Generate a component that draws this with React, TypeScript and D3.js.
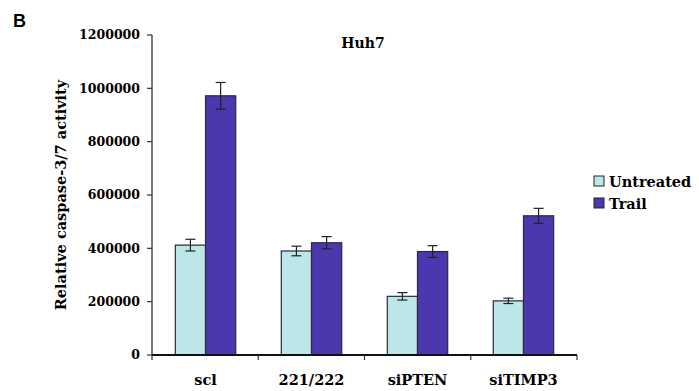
import * as d3 from 'd3';

const CATEGORIES = ['scl', '221/222', 'siPTEN', 'siTIMP3'];
const SERIES = ['Untreated', 'Trail'];
const UNTREATED = [412000, 390000, 220000, 203000];
const UNTREATED_ERR = [22000, 18000, 14000, 10000];
const TRAIL = [972000, 421000, 388000, 522000];
const TRAIL_ERR = [50000, 23000, 22000, 28000];
const Y_TICKS = [0, 200000, 400000, 600000, 800000, 1000000, 1200000];

const COLORS = ['#bde6e8', '#4c38ae'];
const SERIF = 'DejaVu Serif, Liberation Serif, serif';

export default function App() {
    const W = 699;
    const H = 391;
    const margin = {left: 152, right: 122, top: 35, bottom: 36};
    const innerW = W - margin.left - margin.right;
    const innerH = H - margin.top - margin.bottom;

    const x = d3.scaleBand().domain(CATEGORIES).range([0, innerW]).paddingInner(0.43).paddingOuter(0.22);
    const x1 = d3.scaleBand().domain(SERIES).range([0, x.bandwidth()]);
    const y = d3.scaleLinear().domain([0, 1200000]).range([innerH, 0]);

    const values = [UNTREATED, TRAIL];
    const errors = [UNTREATED_ERR, TRAIL_ERR];
    const step = innerW / CATEGORIES.length;

    return (
        <svg width={W} height={H} style={{position: 'absolute', left: 0, top: 0, background: '#fff'}}>
            <text x={13} y={27} style={{fontFamily: 'Liberation Sans, Arial, sans-serif'}} fontWeight="bold" fontSize={18}>B</text>
            <text x={363} y={48} textAnchor="middle" style={{fontFamily: SERIF}} fontWeight="bold" fontSize={14}>Huh7</text>
            <text transform={`translate(66, 195) rotate(-90)`} textAnchor="middle"
                style={{fontFamily: SERIF}} fontWeight="bold" fontSize={14.5}>Relative caspase-3/7 activity</text>

            <g transform={`translate(${margin.left}, ${margin.top})`}>
                {CATEGORIES.map((c, i) => (
                    <g key={c} transform={`translate(${x(c)}, 0)`}>
                        {SERIES.map((s, j) => {
                            const v = values[j][i];
                            const e = errors[j][i];
                            const bx = x1(s) as number;
                            const cx = bx + x1.bandwidth() / 2;
                            return (
                                <g key={s}>
                                    <rect x={bx} y={y(v)} width={x1.bandwidth()} height={innerH - y(v)}
                                        fill={COLORS[j]} stroke="#2a2a3a" strokeWidth={1.2} />
                                    <line x1={cx} x2={cx} y1={y(v + e)} y2={y(v - e)} stroke="#222" strokeWidth={1.2} />
                                    <line x1={cx - 5} x2={cx + 5} y1={y(v + e)} y2={y(v + e)} stroke="#222" strokeWidth={1.2} />
                                    <line x1={cx - 5} x2={cx + 5} y1={y(v - e)} y2={y(v - e)} stroke="#222" strokeWidth={1.2} />
                                </g>
                            );
                        })}
                        <text x={x.bandwidth() / 2} y={innerH + 30} textAnchor="middle"
                            style={{fontFamily: SERIF}} fontWeight="bold" fontSize={14.5}>{c}</text>
                    </g>
                ))}

                {/* y axis */}
                <line x1={0} x2={0} y1={0} y2={innerH} stroke="#333" strokeWidth={1.3} />
                {Y_TICKS.map((t) => (
                    <g key={t} transform={`translate(0, ${y(t)})`}>
                        <line x1={-5} x2={0} stroke="#333" strokeWidth={1.2} />
                        <text x={-12} dy="0.35em" textAnchor="end" style={{fontFamily: SERIF}} fontWeight="bold" fontSize={12.5}>{t}</text>
                    </g>
                ))}

                {/* x axis */}
                <line x1={0} x2={innerW} y1={innerH} y2={innerH} stroke="#111" strokeWidth={2} />
                {d3.range(CATEGORIES.length + 1).map((k) => (
                    <line key={k} x1={k * step} x2={k * step} y1={innerH} y2={innerH + 5} stroke="#333" strokeWidth={1.2} />
                ))}
            </g>

            {/* legend */}
            {SERIES.map((s, j) => (
                <g key={s} transform={`translate(594, ${176 + j * 22})`}>
                    <rect width={10} height={10} fill={COLORS[j]} stroke="#222" strokeWidth={1} />
                    <text x={15} y={10.5} style={{fontFamily: SERIF}} fontWeight="bold" fontSize={14.5}>{s}</text>
                </g>
            ))}
        </svg>
    );
}
